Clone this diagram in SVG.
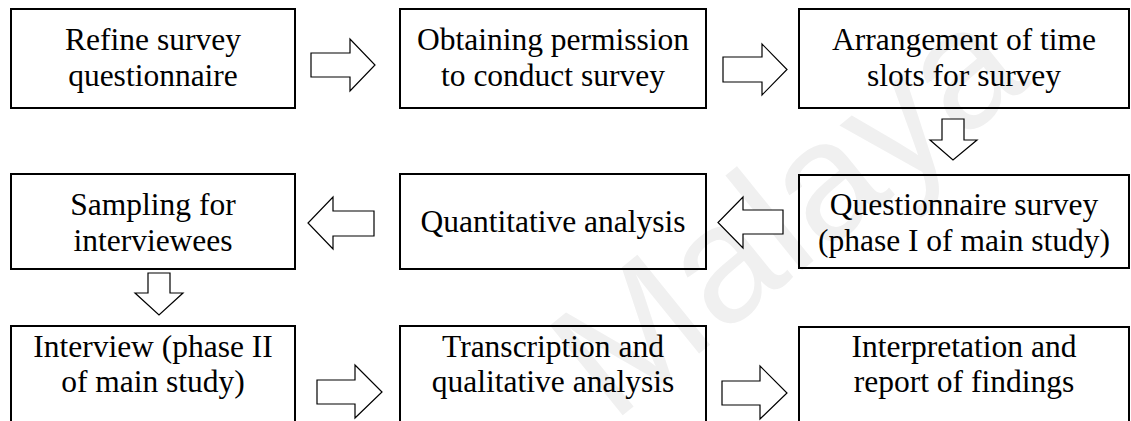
<svg xmlns="http://www.w3.org/2000/svg" width="1131" height="421" viewBox="0 0 1131 421">
  <style>
    .box { fill: none; stroke: #000; stroke-width: 2; }
    .lbl { font-family: "Liberation Serif", "Times New Roman", Tinos, "DejaVu Serif", serif; font-size: 31.5px; fill: #000; text-anchor: middle; }
    .arr { fill: #fff; stroke: #000; stroke-width: 1.2; stroke-linejoin: miter; }
    .wm { font-family: "Liberation Sans", Arial, sans-serif; font-size: 168px; fill: #f0f0f0; }
  </style>
  <rect width="1131" height="421" fill="#fff"/>

  <!-- background mark -->
  <text class="wm" transform="translate(612,424) rotate(-39)">Malaya</text>

  <!-- row 1 -->
  <g id="n1">
    <rect class="box" x="11" y="9" width="284" height="99"/>
    <text class="lbl" x="153" y="50">Refine survey</text>
    <text class="lbl" x="153" y="86">questionnaire</text>
  </g>
  <g id="n2">
    <rect class="box" x="400" y="9" width="306" height="99"/>
    <text class="lbl" x="553" y="50">Obtaining permission</text>
    <text class="lbl" x="553" y="86">to conduct survey</text>
  </g>
  <g id="n3">
    <rect class="box" x="799" y="9" width="330" height="99"/>
    <text class="lbl" x="964" y="50">Arrangement of time</text>
    <text class="lbl" x="964" y="86">slots for survey</text>
  </g>

  <!-- row 2 -->
  <g id="n4">
    <rect class="box" x="11" y="174" width="284" height="95"/>
    <text class="lbl" x="153" y="215">Sampling for</text>
    <text class="lbl" x="153" y="251">interviewees</text>
  </g>
  <g id="n5">
    <rect class="box" x="400" y="174" width="306" height="95"/>
    <text class="lbl" x="553" y="232">Quantitative analysis</text>
  </g>
  <g id="n6">
    <rect class="box" x="799" y="175" width="330" height="93"/>
    <text class="lbl" x="964" y="215">Questionnaire survey</text>
    <text class="lbl" x="964" y="251">(phase I of main study)</text>
  </g>

  <!-- row 3 -->
  <g id="n7">
    <rect class="box" x="11" y="326" width="284" height="120"/>
    <text class="lbl" x="153" y="357">Interview (phase II</text>
    <text class="lbl" x="153" y="392">of main study)</text>
  </g>
  <g id="n8">
    <rect class="box" x="400" y="326" width="306" height="120"/>
    <text class="lbl" x="553" y="357">Transcription and</text>
    <text class="lbl" x="553" y="392">qualitative analysis</text>
  </g>
  <g id="n9">
    <rect class="box" x="799" y="327" width="330" height="120"/>
    <text class="lbl" x="964" y="357">Interpretation and</text>
    <text class="lbl" x="964" y="392">report of findings</text>
  </g>

  <!-- block arrows between steps -->
  <g id="connectors">
    <polygon class="arr" points="311,53 350,53 350,39 375,65 350,91 350,77 311,77"/>
    <polygon class="arr" points="723,57 762,57 762,44 787,69.5 762,95 762,82 723,82"/>
    <polygon class="arr" points="942,119 964,119 964,140 977,140 953,160 930,140 942,140"/>
    <polygon class="arr" points="783,210 743,210 743,197 718,222.5 743,248 743,234 783,234"/>
    <polygon class="arr" points="374,211 333,211 333,197 308,223 333,249 333,236 374,236"/>
    <polygon class="arr" points="148,273 170,273 170,293 183,293 159,315 135,293 148,293"/>
    <polygon class="arr" points="317,380 355,380 355,365 382,392 355,418 355,404 317,404"/>
    <polygon class="arr" points="722,381 760,381 760,366 787,393 760,419 760,405 722,405"/>
  </g>
</svg>
